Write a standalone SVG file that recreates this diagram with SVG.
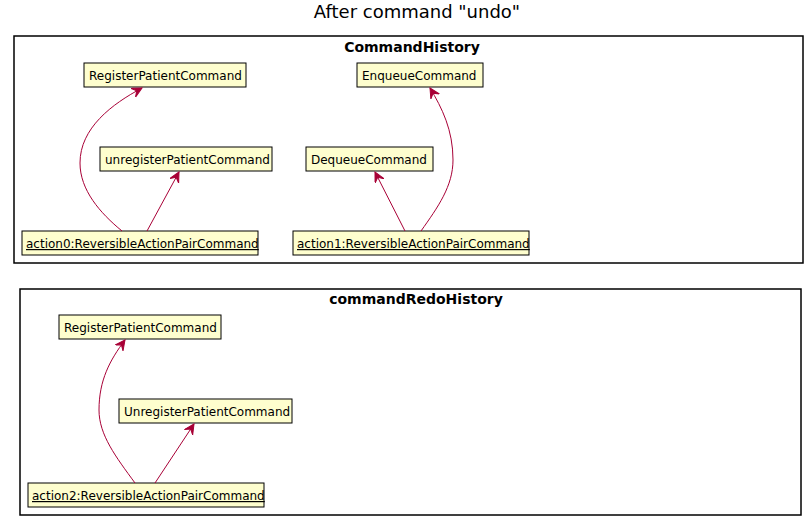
<svg xmlns="http://www.w3.org/2000/svg" width="812" height="525" viewBox="0 0 812 525">
<defs>
<style>
.pkg{fill:none;stroke:#000;stroke-width:1.5}
.pkgt{font-family:"DejaVu Sans",sans-serif;font-size:14px;font-weight:bold;text-anchor:middle;fill:#000}
.node rect{fill:#FEFECE;stroke:#000;stroke-width:1}
.node text{font-family:"DejaVu Sans",sans-serif;font-size:12px;fill:#000}
.u{text-decoration:underline}
.conn path{fill:none;stroke:#A80036;stroke-width:1;marker-end:url(#ah)}
</style>
<marker id="ah" markerWidth="12" markerHeight="12" refX="10" refY="5" orient="auto" markerUnits="userSpaceOnUse">
<path d="M10,5 L0,0 L4,5 L0,10 Z" fill="#A80036" stroke="#A80036" stroke-width="1"/>
</marker>
</defs>
<rect width="812" height="525" fill="#fff"/>
<text x="417" y="18" font-family="DejaVu Sans, sans-serif" font-size="18" text-anchor="middle">After command "undo"</text>

<g id="pkg-CommandHistory">
<rect class="pkg" x="14" y="36" width="789" height="227"/>
<text class="pkgt" x="412" y="52">CommandHistory</text>
</g>
<g id="pkg-commandRedoHistory">
<rect class="pkg" x="20" y="289" width="781" height="226"/>
<text class="pkgt" x="416" y="304">commandRedoHistory</text>
</g>

<g id="n-register1" class="node"><rect x="84" y="63" width="162" height="24"/><text x="89" y="80">RegisterPatientCommand</text></g>
<g id="n-unregister1" class="node"><rect x="100" y="147" width="172" height="24"/><text x="105" y="164">unregisterPatientCommand</text></g>
<g id="n-action0" class="node"><rect x="22" y="231" width="236" height="24"/><text class="u" x="26" y="248">action0:ReversibleActionPairCommand</text></g>
<g id="n-enqueue" class="node"><rect x="357" y="63" width="126" height="24"/><text x="362" y="80">EnqueueCommand</text></g>
<g id="n-dequeue" class="node"><rect x="306" y="147" width="127" height="24"/><text x="311" y="164">DequeueCommand</text></g>
<g id="n-action1" class="node"><rect x="293" y="231" width="236" height="24"/><text class="u" x="297" y="248">action1:ReversibleActionPairCommand</text></g>
<g id="n-register2" class="node"><rect x="59" y="315" width="162" height="24"/><text x="64" y="332">RegisterPatientCommand</text></g>
<g id="n-unregister2" class="node"><rect x="119" y="399" width="173" height="24"/><text x="124" y="416">UnregisterPatientCommand</text></g>
<g id="n-action2" class="node"><rect x="28" y="483" width="236" height="24"/><text class="u" x="32" y="500">action2:ReversibleActionPairCommand</text></g>

<g id="connectors" class="conn">
<path d="M122,231 C100,213 80,190 80,163 C80,128 112,104 142,88"/>
<path d="M147,231 L179,172"/>
<path d="M405,231 L375,172"/>
<path d="M421,231 C438,207 453,186 453,160 C453,130 442,108 430,88"/>
<path d="M135,483 C116,457 99,435 99,410 C99,380 110,360 125,340"/>
<path d="M155,483 L194,424"/>
</g>
</svg>
